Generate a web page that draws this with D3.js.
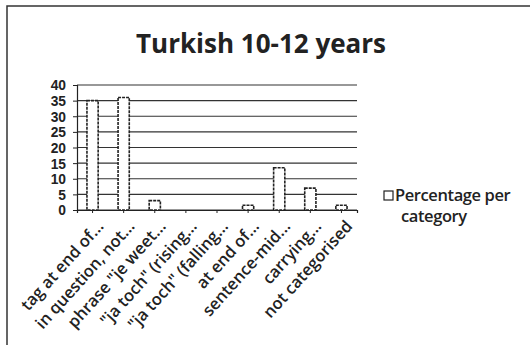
<!DOCTYPE html>
<html>
<head>
<meta charset="utf-8">
<script src="https://cdn.jsdelivr.net/npm/d3@7"></script>
<style>
  body { margin: 0; background: #fff; }
  svg { display: block; }
</style>
</head>
<body>
<svg id="chart" width="530" height="345"></svg>
<script>
// categories as they appear on the x axis (truncated like in the original)
const categories = [
  "tag at end of...",
  "in question, not...",
  "phrase \"je weet...",
  "\"ja toch\" (rising...",
  "\"ja toch\" (falling...",
  "at end of...",
  "sentence-mid...",
  "carrying...",
  "not categorised"
];
const percentages = [35, 36, 3, 0, 0, 1.5, 13.5, 7, 1.5];
const yTicks = [0, 5, 10, 15, 20, 25, 30, 35, 40];
const seriesName = "Percentage per category";
const title = "Turkish 10-12 years";

const svg = d3.select("#chart");
const font = "'Open Sans', 'Noto Sans', sans-serif";
const ink = "#222";

// frame of the slide chart
svg.append("path")
  .attr("d", "M7,345 L7,6 L530,6")
  .attr("fill", "none")
  .attr("stroke", "#333")
  .attr("stroke-width", 1.5);

const plotLeft = 77, plotRight = 357, plotTop = 85, plotBottom = 210;

const x = d3.scaleBand()
  .domain(categories)
  .range([plotLeft, plotRight])
  .paddingInner(0.64)
  .paddingOuter(0.32);

const y = d3.scaleLinear()
  .domain([0, 40])
  .range([plotBottom, plotTop]);

// gridlines
svg.append("g")
  .selectAll("line")
  .data(yTicks)
  .join("line")
  .attr("x1", plotLeft)
  .attr("x2", plotRight)
  .attr("y1", d => y(d))
  .attr("y2", d => y(d))
  .attr("stroke", "#333")
  .attr("stroke-width", 1.2);

// y axis
const yAxis = svg.append("g")
  .attr("transform", `translate(${plotLeft},0)`)
  .call(d3.axisLeft(y).tickValues(yTicks).tickSize(4).tickPadding(7));
yAxis.select(".domain").attr("stroke", ink).attr("stroke-width", 1.2);
yAxis.selectAll("line").attr("stroke", ink);
yAxis.selectAll("text")
  .attr("font-family", "'Liberation Sans', Arial, sans-serif")
  .attr("font-size", 13.8)
  .attr("font-weight", "bold")
  .attr("fill", ink)
  .attr("dy", "0.36em");

// bars
svg.append("g")
  .selectAll("rect")
  .data(percentages)
  .join("rect")
  .attr("x", (d, i) => x(categories[i]))
  .attr("y", d => y(d))
  .attr("width", x.bandwidth())
  .attr("height", d => plotBottom - y(d))
  .attr("fill", "#fff")
  .attr("stroke", ink)
  .attr("stroke-width", 1.6)
  .attr("stroke-dasharray", "3,1");

// x axis
const xAxis = svg.append("g")
  .attr("transform", `translate(0,${plotBottom})`)
  .call(d3.axisBottom(x).tickSize(3).tickPadding(6));
xAxis.select(".domain").attr("stroke", ink).attr("stroke-width", 1.2);
xAxis.selectAll("line").attr("stroke", ink);
xAxis.selectAll("text")
  .attr("font-family", font)
  .attr("font-size", 16.5)
  .attr("font-weight", "600")
  .attr("fill", ink)
  .attr("text-anchor", "end")
  .attr("dy", "0.35em")
  .attr("transform", "translate(1,7) rotate(-48)");

// title
svg.append("text")
  .attr("x", 261)
  .attr("y", 53)
  .attr("text-anchor", "middle")
  .attr("font-family", font)
  .attr("font-size", 26)
  .attr("font-weight", "bold")
  .attr("fill", ink)
  .text(title);

// legend
const lg = svg.append("g").attr("transform", "translate(384,201)");
lg.append("rect")
  .attr("x", 0).attr("y", -10)
  .attr("width", 9).attr("height", 9)
  .attr("fill", "#fff")
  .attr("stroke", ink)
  .attr("stroke-width", 1.2);
const words = seriesName.split(" ");
lg.append("text")
  .attr("font-family", font)
  .attr("font-size", 16.5)
  .attr("font-weight", "600")
  .attr("fill", ink)
  .attr("letter-spacing", -0.4)
  .selectAll("tspan")
  .data([words.slice(0, 2).join(" "), words.slice(2).join(" ")])
  .join("tspan")
  .attr("x", (d, i) => i === 0 ? 11 : 17)
  .attr("y", (d, i) => i * 21)
  .text(d => d);
</script>
</body>
</html>
